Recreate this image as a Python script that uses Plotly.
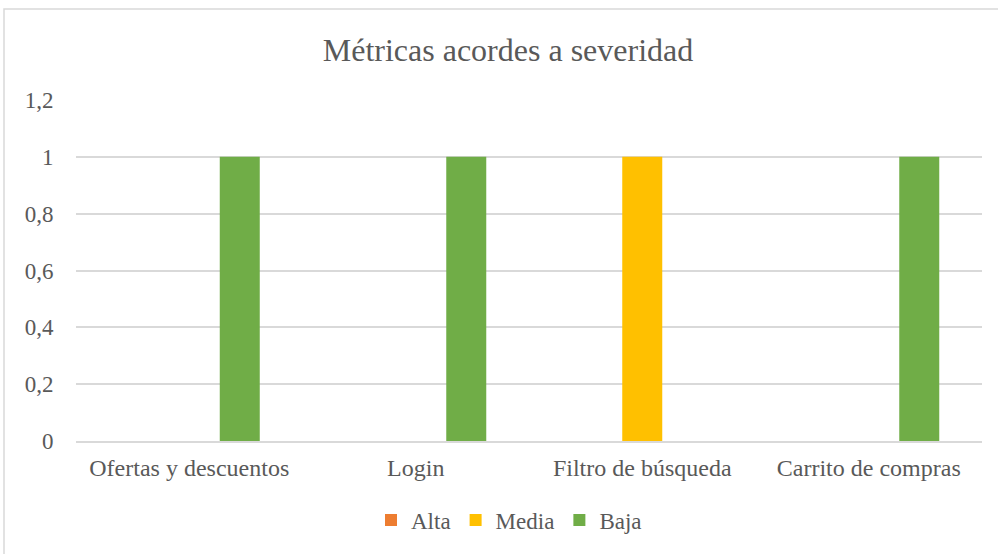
import plotly.graph_objects as go

categories = ["Ofertas y descuentos", "Login", "Filtro de búsqueda", "Carrito de compras"]
alta = [0, 0, 0, 0]
media = [0, 0, 1, 0]
baja = [1, 1, 0, 1]
y_ticks = [0, 0.2, 0.4, 0.6, 0.8, 1, 1.2]

FONT = "Liberation Serif"
TXT = "#595959"

fig = go.Figure()
fig.add_trace(go.Bar(name="Alta", x=categories, y=alta, marker_color="#ED7D31"))
fig.add_trace(go.Bar(name="Media", x=categories, y=media, marker_color="#FFC000"))
fig.add_trace(go.Bar(name="Baja", x=categories, y=baja, marker_color="#70AD47"))

W, H = 998, 554
L, R, T, B = 76, 16, 100, 113
pw, ph = W - L - R, H - T - B

fig.update_layout(
    template="none",
    width=W, height=H,
    margin=dict(l=L, r=R, t=T, b=B, pad=0),
    paper_bgcolor="white", plot_bgcolor="white",
    separators=", ",
    barmode="group", bargap=0.331, bargroupgap=0.208,
    font=dict(family=FONT, color=TXT, size=24),
    title=dict(text="Métricas acordes a severidad", x=508 / W, xanchor="center",
               y=1 - 50 / H, yanchor="middle", font=dict(size=32, color=TXT, family=FONT)),
    legend=dict(orientation="h", x=(509 - L) / pw, xanchor="center",
                y=-(520 - (T + ph)) / ph, yanchor="middle",
                font=dict(size=23, color=TXT, family=FONT), itemwidth=30, traceorder="normal",
                bgcolor="rgba(0,0,0,0)"),
    showlegend=True,
    shapes=[dict(type="rect", xref="paper", yref="paper",
                 x0=(4 - L) / pw, x1=1.2, y0=-0.5, y1=(T + ph - 9) / ph,
                 line=dict(color="#D9D9D9", width=1.5), fillcolor="rgba(0,0,0,0)", layer="below")],
)
fig.update_xaxes(showgrid=False, showline=True, linecolor="#D9D9D9", linewidth=1.5,
                 ticks="outside", ticklen=4, tickcolor="rgba(0,0,0,0)",
                 tickfont=dict(size=24, color=TXT, family=FONT))
fig.update_yaxes(range=[0, 1.2], tickvals=y_ticks, showgrid=True, gridcolor="#D9D9D9",
                 gridwidth=1.5, zeroline=False, showline=False,
                 ticks="outside", ticklen=17, tickcolor="rgba(0,0,0,0)",
                 tickfont=dict(size=23, color=TXT, family=FONT))

fig.write_html("out.html", config={"displayModeBar": False},
               post_script="document.body.style.margin='0';")
